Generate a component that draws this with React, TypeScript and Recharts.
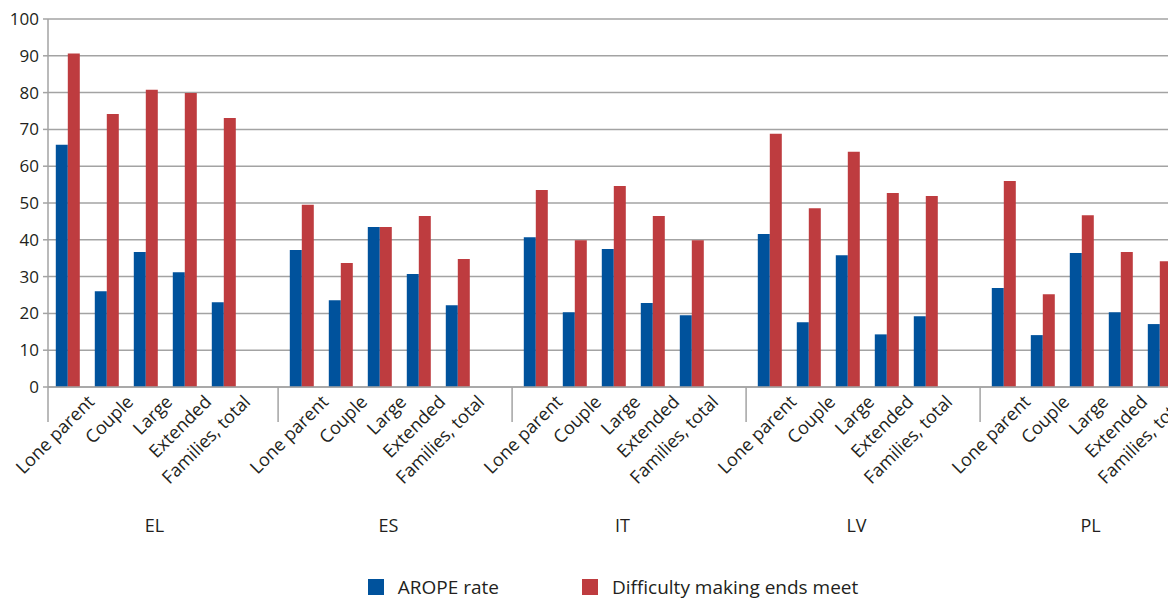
import { BarChart, Bar, XAxis, YAxis, CartesianGrid, Legend } from 'recharts';

const countries = ['EL', 'ES', 'IT', 'LV', 'PL'];
const familyTypes = ['Lone parent', 'Couple', 'Large', 'Extended', 'Families, total'];

// one value per country x family type, in the order above
const aropeRate = [
  65.8, 26.0, 36.7, 31.2, 23.0,
  37.2, 23.6, 43.5, 30.7, 22.2,
  40.7, 20.3, 37.5, 22.8, 19.5,
  41.6, 17.6, 35.8, 14.3, 19.2,
  26.9, 14.1, 36.4, 20.3, 17.1,
];
const difficultyEnds = [
  90.6, 74.2, 80.8, 79.9, 73.1,
  49.5, 33.7, 43.5, 46.5, 34.8,
  53.5, 39.9, 54.6, 46.5, 39.9,
  68.8, 48.6, 63.9, 52.7, 51.9,
  56.0, 25.2, 46.7, 36.7, 34.2,
];
const yTicks = [0, 10, 20, 30, 40, 50, 60, 70, 80, 90, 100];

const BLUE = '#00529c';
const RED = '#be3c3f';
const GRID = '#a3a3a3';
const TEXT = '#231f20';
const FONT = '"Open Sans", "Noto Sans", sans-serif';

type Row = {
  key: string;
  country: string;
  type: string;
  arope: number | null;
  difficulty: number | null;
};

const rows: Row[] = [];
countries.forEach((country, ci) => {
  familyTypes.forEach((type, ti) => {
    rows.push({
      key: `${country}|${type}`,
      country,
      type,
      arope: aropeRate[ci * familyTypes.length + ti],
      difficulty: difficultyEnds[ci * familyTypes.length + ti],
    });
  });
  // empty slot between countries
  rows.push({ key: `${country}|gap`, country, type: '', arope: null, difficulty: null });
});

function CategoryTick(props: any) {
  const { x, y, index, payload } = props;
  const row = rows[index];
  const half = payload?.offset ?? 19.5;
  if (!row) return null;
  const lx = x + 28;
  const ly = y + 16;
  return (
    <g>
      {index === 0 && (
        <line x1={x - half} x2={x - half} y1={y} y2={y + 35} stroke={GRID} strokeWidth={1.5} />
      )}
      {row.type === '' && (
        <line x1={x + half * 0.8} x2={x + half * 0.8} y1={y} y2={y + 35} stroke={GRID} strokeWidth={1.5} />
      )}
      {row.type !== '' && (
        <text
          x={lx}
          y={ly}
          textAnchor="end"
          transform={`rotate(-45, ${lx}, ${ly})`}
          fontSize={18}
          fontFamily={FONT}
          fill={TEXT}
        >
          {row.type}
        </text>
      )}
      {row.type === familyTypes[2] && (
        <text x={x + 9} y={y + 145} textAnchor="middle" fontSize={18} fontFamily={FONT} fill={TEXT}>
          {row.country}
        </text>
      )}
    </g>
  );
}

function LegendContent() {
  const item = (color: string, label: string, ml: number) => (
    <div style={{ display: 'flex', alignItems: 'center', marginLeft: ml, height: 24 }}>
      <div style={{ width: 16, height: 16, background: color, marginRight: 14 }} />
      <span style={{ fontSize: 19, fontFamily: FONT, color: TEXT, lineHeight: '24px' }}>{label}</span>
    </div>
  );
  return (
    <div style={{ display: 'flex', justifyContent: 'center', paddingTop: 8, paddingLeft: 8 }}>
      {item(BLUE, 'AROPE rate', 0)}
      {item(RED, 'Difficulty making ends meet', 83)}
    </div>
  );
}

function App() {
  return (
    <div
      style={{
        position: 'fixed',
        left: 0,
        top: 0,
        width: 1168,
        height: 599,
        overflow: 'hidden',
        background: '#fff',
      }}
    >
      <BarChart
        width={1218}
        height={599}
        data={rows}
        margin={{ top: 19, right: 0, bottom: 0, left: 0 }}
        barCategoryGap="20%"
        barGap={0}
      >
        <CartesianGrid vertical={false} stroke={GRID} strokeWidth={1.5} />
        <XAxis
          dataKey="key"
          interval={0}
          tickLine={false}
          tickSize={0}
          tickMargin={0}
          axisLine={{ stroke: GRID, strokeWidth: 1.5 }}
          height={180}
          tick={<CategoryTick />}
        />
        <YAxis
          domain={[0, 100]}
          ticks={yTicks}
          width={48}
          tickSize={5}
          tickMargin={4}
          axisLine={{ stroke: GRID, strokeWidth: 1.5 }}
          tickLine={{ stroke: GRID, strokeWidth: 1.5 }}
          tick={{ fontSize: 17, fontFamily: FONT, fill: TEXT }}
        />
        <Legend verticalAlign="bottom" height={32} content={<LegendContent />} />
        <Bar dataKey="arope" name="AROPE rate" fill={BLUE} isAnimationActive={false} />
        <Bar dataKey="difficulty" name="Difficulty making ends meet" fill={RED} isAnimationActive={false} />
      </BarChart>
    </div>
  );
}

export default App;
